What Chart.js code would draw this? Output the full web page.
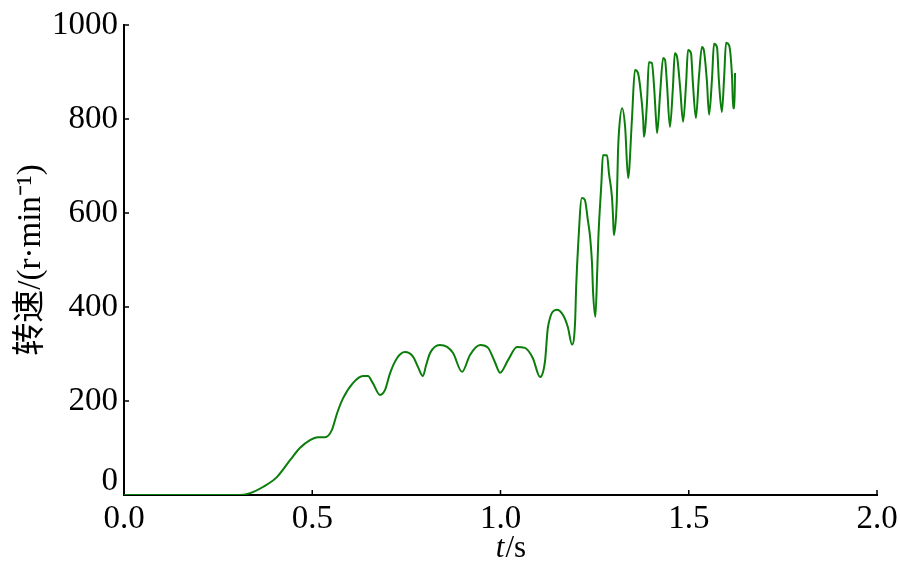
<!DOCTYPE html>
<html>
<head>
<meta charset="utf-8">
<script src="https://cdn.jsdelivr.net/npm/chart.js@4/dist/chart.umd.min.js"></script>
<style>
  html, body { margin: 0; padding: 0; background: #fff; }
  #wrap { width: 900px; height: 570px; }
</style>
</head>
<body>
<div id="wrap"><canvas id="speedChart" width="900" height="570"></canvas></div>
<script>
// time (s) and speed (r/min)
const times = [
    0, 0.303, 0.335, 0.369, 0.406, 0.441, 0.467, 0.494, 0.515, 0.534,
    0.552, 0.566, 0.582, 0.608, 0.635, 0.648, 0.661, 0.680, 0.693, 0.707,
    0.725, 0.746, 0.768, 0.781, 0.794, 0.802, 0.813, 0.839, 0.858, 0.874,
    0.898, 0.919, 0.946, 0.967, 0.985, 0.999, 1.020, 1.044, 1.065, 1.086,
    1.105, 1.118, 1.126, 1.150, 1.166, 1.179, 1.190, 1.198, 1.201, 1.206,
    1.216, 1.224, 1.232, 1.238, 1.243, 1.246, 1.252, 1.257, 1.260, 1.268,
    1.272, 1.283, 1.288, 1.296, 1.299, 1.301, 1.309, 1.312, 1.315, 1.323,
    1.331, 1.339, 1.349, 1.357, 1.365, 1.371, 1.379, 1.381, 1.389, 1.394,
    1.402, 1.408, 1.413, 1.416, 1.424, 1.432, 1.437, 1.442, 1.450, 1.458,
    1.463, 1.469, 1.477, 1.485, 1.493, 1.498, 1.506, 1.511, 1.519, 1.527,
    1.535, 1.540, 1.548, 1.554, 1.562, 1.567, 1.575, 1.580, 1.588, 1.594,
    1.599, 1.607, 1.615, 1.618, 1.621, 1.623
];
const speeds = [
    0, 0, 4, 17, 38, 74, 100, 117, 123, 123,
    138, 174, 206, 238, 253, 253, 238, 213, 223, 260,
    291, 304, 294, 272, 253, 275, 302, 319, 315, 302,
    262, 298, 319, 313, 283, 260, 287, 315, 313, 291,
    251, 283, 357, 394, 383, 357, 320, 366, 443, 528,
    632, 628, 585, 549, 494, 430, 379, 479, 549, 664,
    723, 723, 685, 634, 591, 553, 628, 728, 777, 823,
    783, 674, 798, 904, 898, 868, 798, 762, 834, 921,
    919, 868, 800, 770, 855, 930, 926, 877, 783, 868,
    940, 932, 868, 794, 877, 947, 940, 877, 802, 889,
    953, 947, 883, 809, 889, 960, 953, 883, 815, 889,
    962, 957, 889, 823, 823, 898
];
const xTicks = [0, 0.5, 1.0, 1.5, 2.0];
const yTicks = [0, 200, 400, 600, 800, 1000];

const serif = "'Liberation Serif', 'Times New Roman', 'Noto Sans CJK SC', serif";

// short tick marks pointing into the plot, and the x axis title
const innerTicks = {
    id: 'innerTicks',
    afterDraw(chart) {
        const ctx = chart.ctx;
        const xs = chart.scales.x, ys = chart.scales.y;
        const area = chart.chartArea;
        ctx.save();
        ctx.strokeStyle = '#000';
        ctx.lineWidth = 1.5;
        ctx.beginPath();
        xTicks.forEach(v => {
            if (v === 0) return;
            const px = xs.getPixelForValue(v);
            ctx.moveTo(px, area.bottom);
            ctx.lineTo(px, area.bottom - 5);
        });
        yTicks.forEach(v => {
            if (v === 0) return;
            const py = ys.getPixelForValue(v);
            ctx.moveTo(area.left, py);
            ctx.lineTo(area.left + 5, py);
        });
        ctx.stroke();

        // italic t, upright /s
        ctx.fillStyle = '#000';
        ctx.textBaseline = 'alphabetic';
        ctx.font = 'italic 31px ' + serif;
        const wT = ctx.measureText('t').width;
        ctx.font = '31px ' + serif;
        const wS = ctx.measureText('/s').width;
        const cx = (area.left + area.right) / 2 + 10;
        const x0 = cx - (wT + wS) / 2;
        ctx.font = 'italic 31px ' + serif;
        ctx.fillText('t', x0, 557);
        ctx.font = '31px ' + serif;
        ctx.fillText('/s', x0 + wT + 1, 557);
        ctx.restore();
    }
};

const ctx1 = document.getElementById('speedChart').getContext('2d');

new Chart(ctx1, {
    type: 'line',
    data: {
        datasets: [{
            label: '转速',
            data: times.map((t, i) => ({ x: t, y: speeds[i] })),
            borderColor: '#0b7d0b',
            borderWidth: 2,
            pointRadius: 0,
            cubicInterpolationMode: 'monotone',
            fill: false
        }]
    },
    options: {
        responsive: false,
        animation: false,
        layout: { padding: { top: 25, right: 23, left: 0, bottom: 0 } },
        plugins: {
            legend: { display: false },
            tooltip: { enabled: false }
        },
        scales: {
            x: {
                type: 'linear',
                min: 0,
                max: 2,
                afterBuildTicks: s => { s.ticks = xTicks.map(v => ({ value: v })); },
                afterFit: s => { s.height = 75; s.paddingLeft = 0; s.paddingRight = 0; },
                grid: { display: false, drawTicks: false },
                border: { display: true, color: '#000', width: 2 },
                ticks: {
                    padding: 8,
                    color: '#000',
                    maxRotation: 0,
                    font: { family: serif, size: 33, lineHeight: 1 },
                    callback: v => v.toFixed(1)
                }
            },
            y: {
                min: 0,
                max: 1000,
                afterBuildTicks: s => { s.ticks = yTicks.map(v => ({ value: v })); },
                afterFit: s => { s.width = 124; s.paddingTop = 0; s.paddingBottom = 0; },
                grid: { display: false, drawTicks: false },
                border: { display: true, color: '#000', width: 2 },
                ticks: {
                    padding: 6,
                    color: '#000',
                    font: ctx => ({ family: serif, size: 33, lineHeight: ctx.index === 0 ? 0.85 : 1 }),
                    callback: v => (v === 0 ? ['0', ''] : String(v))
                },
                title: {
                    display: true,
                    text: '转速/(r·min⁻¹)',
                    color: '#000',
                    padding: { top: 12, bottom: 0 },
                    font: { family: serif, size: 33, lineHeight: 1.2 }
                }
            }
        }
    },
    plugins: [innerTicks]
});
</script>
</body>
</html>
